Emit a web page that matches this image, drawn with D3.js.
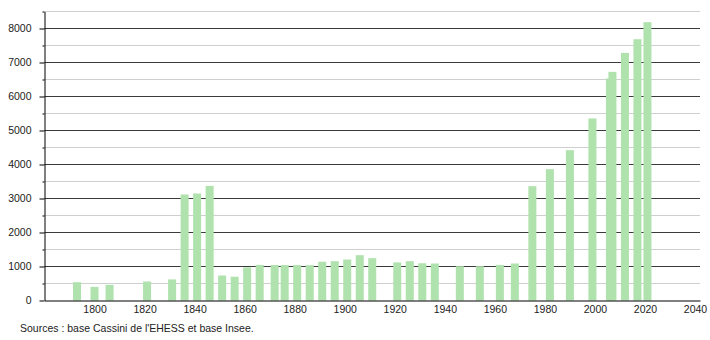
<!DOCTYPE html>
<html>
<head>
<meta charset="utf-8">
<script src="https://cdn.jsdelivr.net/npm/d3@7"></script>
<style>
  body { margin: 0; background: #fff; }
  text { font-family: "Liberation Sans", Arial, sans-serif; }
</style>
</head>
<body>
<div id="chart"></div>
<script>
const width = 710;
const height = 340;

// census years and population
const years = [1793, 1800, 1806, 1821, 1831, 1836, 1841, 1846, 1851, 1856,
  1861, 1866, 1872, 1876, 1881, 1886, 1891, 1896, 1901, 1906,
  1911, 1921, 1926, 1931, 1936, 1946, 1954, 1962, 1968, 1975,
  1982, 1990, 1999, 2006, 2007, 2012, 2017, 2021];
const population = [538, 400, 460, 558, 620, 3118, 3147, 3371, 735, 700,
  975, 1047, 1045, 1042, 1042, 1040, 1140, 1156, 1205, 1333,
  1245, 1120, 1156, 1095, 1088, 1009, 1009, 1047, 1088, 3362,
  3862, 4421, 5355, 6529, 6725, 7283, 7685, 8185];

const yTicks = [0, 1000, 2000, 3000, 4000, 5000, 6000, 7000, 8000];
const yMinor = [500, 1500, 2500, 3500, 4500, 5500, 6500, 7500, 8500];
const xTicks = [1800, 1820, 1840, 1860, 1880, 1900, 1920, 1940, 1960, 1980, 2000, 2020, 2040];
const source = "Sources : base Cassini de l'EHESS et base Insee.";

const svg = d3.select('#chart')
  .append('svg')
  .attr('width', width)
  .attr('height', height);

const x = d3.scaleLinear().domain([1780, 2042]).range([44.5, 700]);
const y = d3.scaleLinear().domain([0, 8500]).range([300.5, 11.5]);

// light gridlines (500s)
svg.append('g').selectAll('line').data(yMinor)
  .enter().append('line')
  .attr('x1', x.range()[0]).attr('x2', x.range()[1])
  .attr('y1', d => y(d)).attr('y2', d => y(d))
  .attr('stroke', '#cfcfcf');

// dark gridlines (1000s)
svg.append('g').selectAll('line').data(yTicks.slice(1))
  .enter().append('line')
  .attr('x1', x.range()[0]).attr('x2', x.range()[1])
  .attr('y1', d => y(d)).attr('y2', d => y(d))
  .attr('stroke', '#3a3a3a');

const barW = 8;
svg.append('g').selectAll('rect').data(years)
  .enter().append('rect')
  .attr('x', d => x(d) - barW / 2)
  .attr('y', (d, i) => y(population[i]))
  .attr('width', barW)
  .attr('height', (d, i) => y(0) - y(population[i]))
  .attr('fill', '#b0e2ad');

// minor ticks on y axis
svg.append('g')
  .attr('transform', `translate(${x.range()[0]},0)`)
  .call(d3.axisLeft(y).tickValues(yMinor).tickSize(2).tickFormat(''))
  .call(g => g.select('.domain').remove());

const yAxis = svg.append('g')
  .attr('transform', `translate(${x.range()[0]},0)`)
  .call(d3.axisLeft(y).tickValues(yTicks).tickSize(5).tickSizeOuter(0).tickPadding(8)
    .tickFormat(d3.format('d')));

const xAxis = svg.append('g')
  .attr('transform', `translate(0,${y(0)})`)
  .call(d3.axisBottom(x).tickValues(xTicks).tickSize(0).tickPadding(5).tickFormat(d3.format('d')));

[yAxis, xAxis].forEach(g => {
  g.selectAll('text').attr('fill', '#222').style('font-size', '10.5px');
  g.select('.domain').attr('stroke', '#000');
  g.selectAll('line').attr('stroke', '#000');
});

svg.append('text')
  .attr('x', 20)
  .attr('y', 331.5)
  .attr('fill', '#222')
  .style('font-size', '10.5px')
  .text(source);
</script>
</body>
</html>
